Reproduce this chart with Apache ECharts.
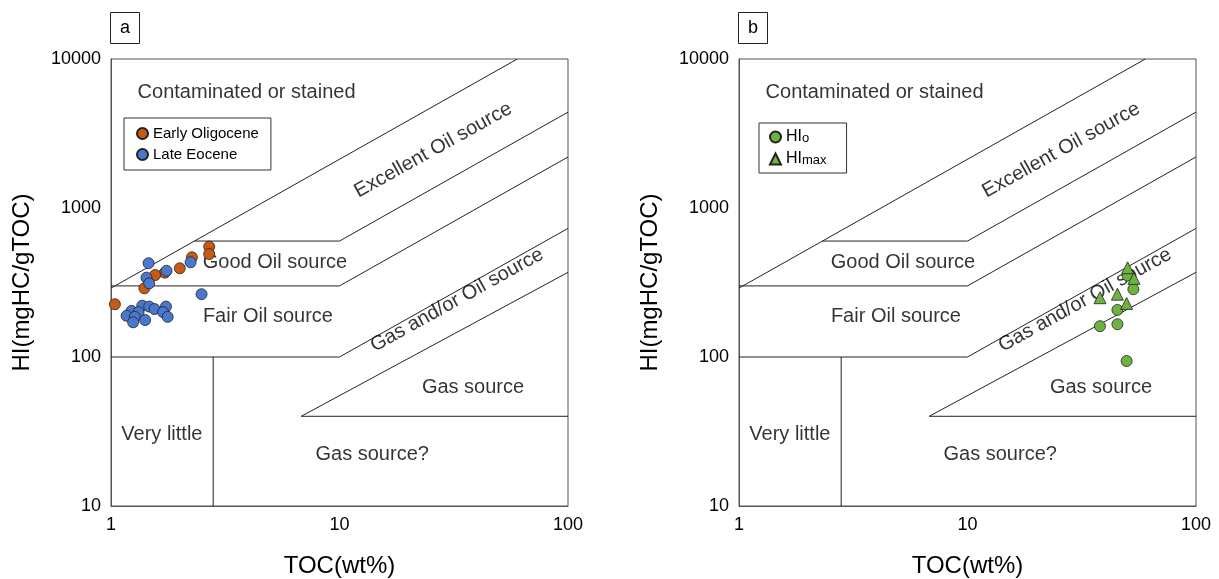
<!DOCTYPE html>
<html lang="en">
<head>
<meta charset="UTF-8">
<title>HI vs TOC</title>
<script src="https://cdn.jsdelivr.net/npm/echarts@6/dist/echarts.min.js"></script>
<style>html,body{margin:0;padding:0;background:#fff;}</style>
</head>
<body>
<div id="main" style="width:1219px;height:579px;"></div>
<script>
// sample points [TOC, HI]
var earlyOligocene = [[2.69,550],[2.69,491],[2.26,467],[2.00,394],[1.72,368],[1.56,355],[1.40,289],[1.04,226]];
var lateEocene = [[1.46,426],[2.23,432],[1.75,379],[1.43,341],[1.47,312],[2.49,264],
    [1.37,221],[1.47,218],[1.55,210],[1.23,204],[1.32,200],[1.17,189],[1.27,186],
    [1.25,171],[1.41,177],[1.74,218],[1.69,200],[1.77,186]];
var hiO = [[50.2,352],[53.2,285],[45.3,207],[38.0,161],[45.3,166],[49.7,94]];
var hiMax = [[50.2,397],[53.5,337],[38.0,250],[45.3,264],[49.7,229]];

// zone boundaries (same on both panels)
var excellentTop = [[1,290],[60,10000]];
var excellentLow = [[2.32,600],[10,600],[100,4400]];
var goodLow = [[1,300],[10,300],[100,2200]];
var fairLow = [[1,100],[10,100],[100,730]];
var gasTop = [[6.8,40],[100,370]];
var gasLow = [[6.8,40],[100,40]];
var veryLittleEdge = [[2.8,10],[2.8,100]];
var boundaries = [excellentTop, excellentLow, goodLow, fairLow, gasTop, gasLow, veryLittleEdge];

// zone names: text, TOC, HI, rotation
var zoneNames = ['Contaminated or stained','Excellent Oil source','Good Oil source','Fair Oil source',
    'Gas and/or Oil source','Gas source','Very little','Gas source?'];
var zoneX = [3.92, 25.7, 5.22, 4.86, 32.7, 38.4, 1.67, 13.9];
var zoneY = [5915, 2449, 428, 188, 241, 62, 30.4, 22];
var zoneRotate = [0, 29, 0, 0, 29, 0, 0, 0];

var myChart = echarts.init(document.getElementById('main'));

var txt = '#000';
var series = [];

// boundaries and zone names for one panel
function addZones(idx) {
    for (var i = 0; i < boundaries.length; i++) {
        series.push({
            type: 'line', xAxisIndex: idx, yAxisIndex: idx,
            data: boundaries[i], showSymbol: false, silent: true,
            lineStyle: {color: '#222', width: 1}, z: 2
        });
    }
    var lbl = [];
    for (var j = 0; j < zoneNames.length; j++) {
        lbl.push({name: zoneNames[j], value: [zoneX[j], zoneY[j]], label: {rotate: zoneRotate[j]}});
    }
    series.push({
        type: 'scatter', xAxisIndex: idx, yAxisIndex: idx, symbolSize: 0, silent: true,
        data: lbl, z: 3,
        label: {show: true, position: 'inside', formatter: '{b}', fontSize: 20, color: txt}
    });
}
addZones(0);
addZones(1);

function pts(name, data, idx, color, symbol) {
    return {
        name: name, type: 'scatter', xAxisIndex: idx, yAxisIndex: idx,
        data: data, symbol: symbol, symbolSize: symbol == 'triangle' ? 12 : 11, z: 5,
        itemStyle: {color: color, borderColor: '#222', borderWidth: 0.8, opacity: 1}
    };
}
series.push(pts('Early Oligocene', earlyOligocene, 0, '#c95a14', 'circle'));
series.push(pts('Late Eocene', lateEocene, 0, '#4a78cf', 'circle'));
series.push(pts('HIo', hiO, 1, '#6db33f', 'circle'));
series.push(pts('HImax', hiMax, 1, '#6db33f', 'triangle'));

function plain(v) { return String(v); }

function xAx(idx) {
    return {
        type: 'log', logBase: 10, min: 1, max: 100, gridIndex: idx,
        name: 'TOC(wt%)', nameLocation: 'middle', nameGap: 48,
        nameTextStyle: {fontSize: 24, color: txt},
        axisLine: {show: true, lineStyle: {color: '#555'}},
        axisTick: {show: false}, splitLine: {show: false}, minorTick: {show: false},
        axisLabel: {fontSize: 18, color: txt, margin: 10, formatter: plain}
    };
}
function yAx(idx) {
    return {
        type: 'log', logBase: 10, min: 10, max: 10000, gridIndex: idx,
        name: 'HI(mgHC/gTOC)', nameLocation: 'middle', nameGap: 77,
        nameTextStyle: {fontSize: 24, color: txt},
        axisLine: {show: true, lineStyle: {color: '#555'}},
        axisTick: {show: false}, splitLine: {show: false}, minorTick: {show: false},
        axisLabel: {fontSize: 18, color: txt, margin: 10, formatter: plain}
    };
}

var legendBox = {
    orient: 'vertical', borderColor: '#333', borderWidth: 1,
    itemWidth: 11, itemHeight: 11, itemGap: 6, padding: [8, 12, 8, 12],
    textStyle: {fontSize: 15, color: txt}
};

var option = {
    animation: false,
    textStyle: {fontFamily: 'Liberation Sans, Arial, sans-serif'},
    title: [
        {text: 'a', left: 110, top: 12, borderColor: '#222', borderWidth: 1, padding: [6, 10, 6, 10],
            textStyle: {fontSize: 18, fontWeight: 'normal', color: txt, lineHeight: 20}},
        {text: 'b', left: 738, top: 12, borderColor: '#222', borderWidth: 1, padding: [6, 10, 6, 10],
            textStyle: {fontSize: 18, fontWeight: 'normal', color: txt, lineHeight: 20}}
    ],
    legend: [
        Object.assign({}, legendBox, {data: ['Early Oligocene', 'Late Eocene'], left: 124, top: 118}),
        Object.assign({}, legendBox, {
            data: ['HIo', 'HImax'], left: 759, top: 123, padding: [6, 20, 6, 10],
            formatter: function (n) { return n == 'HIo' ? '{a|HI}{s|o}' : '{a|HI}{s|max}'; },
            textStyle: {fontSize: 15, color: txt, rich: {a: {fontSize: 16, color: txt}, s: {fontSize: 13, color: txt, padding: [3, 0, 0, 0]}}}
        })
    ],
    grid: [
        {left: 111, top: 59, width: 457, height: 447, show: true, borderColor: '#555', borderWidth: 1, outerBoundsMode: 'none'},
        {left: 739, top: 59, width: 457, height: 447, show: true, borderColor: '#555', borderWidth: 1, outerBoundsMode: 'none'}
    ],
    xAxis: [xAx(0), xAx(1)],
    yAxis: [yAx(0), yAx(1)],
    series: series
};
myChart.setOption(option);
</script>
</body>
</html>
